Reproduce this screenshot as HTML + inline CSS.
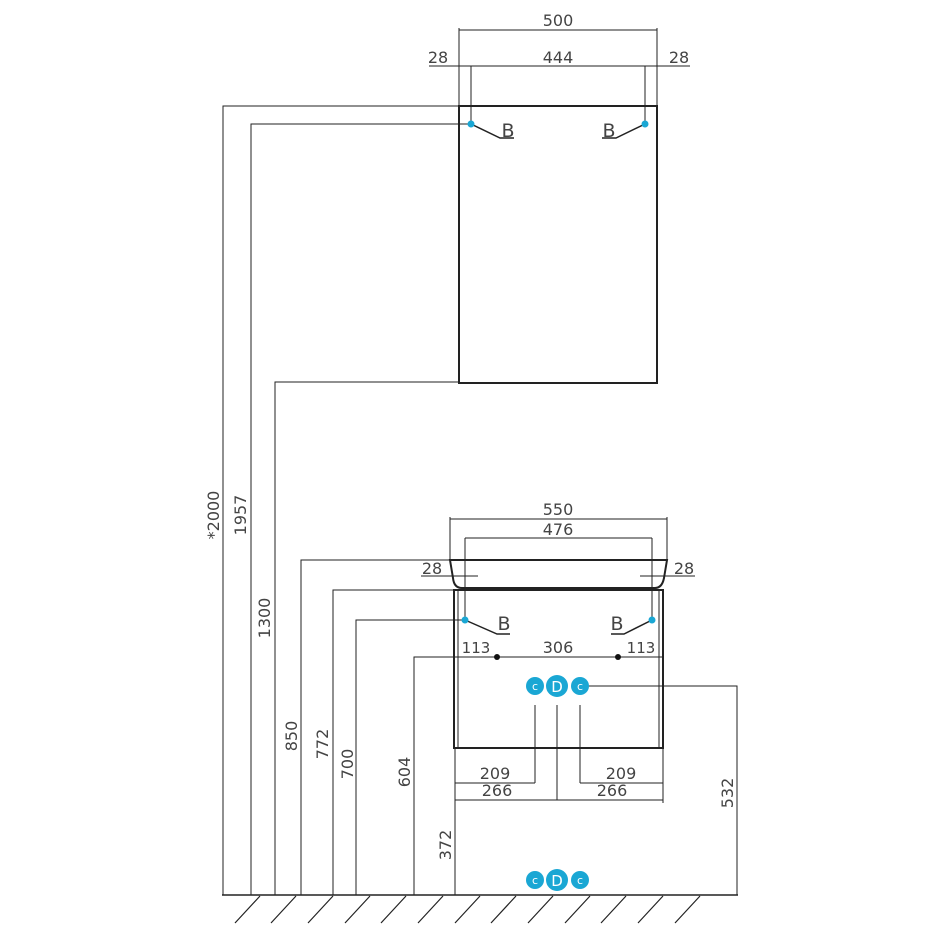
<!DOCTYPE html>
<html><head><meta charset="utf-8"><style>
html,body{margin:0;padding:0;background:#fff;}
svg{display:block}
text{font-family:"DejaVu Sans","Liberation Sans",sans-serif;font-size:16px;fill:#444}
</style></head><body>
<svg width="950" height="950" viewBox="0 0 950 950" xmlns="http://www.w3.org/2000/svg">
<g stroke="#222" stroke-width="1" fill="none">
<polyline points="459,106 223,106 223,895"/>
<polyline points="471,124 251,124 251,895"/>
<polyline points="459,382 275,382 275,895"/>
<polyline points="450,560 301,560 301,895"/>
<polyline points="454,590 333,590 333,895"/>
<polyline points="465,620 356,620 356,895"/>
<polyline points="497,657 414,657 414,895"/>
<line x1="455" y1="748" x2="455" y2="895"/>
<polyline points="579,686 737,686 737,895"/>
<line x1="222" y1="895" x2="738" y2="895" stroke-width="1.5"/>
<line x1="459" y1="28" x2="459" y2="106"/>
<line x1="657" y1="28" x2="657" y2="106"/>
<line x1="459" y1="30" x2="657" y2="30"/>
<line x1="429" y1="66" x2="690" y2="66"/>
<line x1="471" y1="66" x2="471" y2="124"/>
<line x1="645" y1="66" x2="645" y2="124"/>
<rect x="459" y="106" width="198" height="277" stroke-width="2"/>
<polyline points="471,124 500,138 514,138" stroke-width="1.5"/>
<polyline points="645,124 616,138 602,138" stroke-width="1.5"/>
<line x1="450" y1="517" x2="450" y2="560"/>
<line x1="667" y1="517" x2="667" y2="560"/>
<line x1="450" y1="519" x2="667" y2="519"/>
<line x1="465" y1="538" x2="652" y2="538"/>
<line x1="465" y1="538" x2="465" y2="620"/>
<line x1="652" y1="538" x2="652" y2="620"/>
<line x1="421" y1="576" x2="478" y2="576"/>
<line x1="640" y1="576" x2="695" y2="576"/>
<path d="M450,560 L667,560 L664,578 Q662,588 655,588 L462,588 Q454,588 453,578 Z" stroke-width="2"/>
<rect x="454" y="590" width="209" height="158" stroke-width="2"/>
<line x1="458" y1="590" x2="458" y2="748"/>
<line x1="659" y1="590" x2="659" y2="748"/>
<polyline points="465,620 497,634 510,634" stroke-width="1.5"/>
<polyline points="652,620 624,634 611,634" stroke-width="1.5"/>
<line x1="454" y1="657" x2="663" y2="657"/>
<line x1="535" y1="705" x2="535" y2="783"/>
<line x1="557" y1="705" x2="557" y2="800"/>
<line x1="580" y1="705" x2="580" y2="783"/>
<line x1="455" y1="783" x2="535" y2="783"/>
<line x1="580" y1="783" x2="663" y2="783"/>
<line x1="455" y1="800" x2="663" y2="800"/>
<line x1="663" y1="748" x2="663" y2="803"/>
<g stroke-width="1.2">
<line x1="260" y1="896" x2="235" y2="923"/><line x1="296" y1="896" x2="271" y2="923"/>
<line x1="333" y1="896" x2="308" y2="923"/><line x1="370" y1="896" x2="345" y2="923"/>
<line x1="406" y1="896" x2="381" y2="923"/><line x1="443" y1="896" x2="418" y2="923"/>
<line x1="480" y1="896" x2="455" y2="923"/><line x1="516" y1="896" x2="491" y2="923"/>
<line x1="553" y1="896" x2="528" y2="923"/><line x1="590" y1="896" x2="565" y2="923"/>
<line x1="626" y1="896" x2="601" y2="923"/><line x1="663" y1="896" x2="638" y2="923"/>
<line x1="700" y1="896" x2="675" y2="923"/>
</g>
</g>
<g fill="#1aa7d4">
<circle cx="471" cy="124" r="3.5"/><circle cx="645" cy="124" r="3.5"/>
<circle cx="465" cy="620" r="3.5"/><circle cx="652" cy="620" r="3.5"/>
<circle cx="535" cy="686" r="9"/><circle cx="557" cy="686" r="11"/><circle cx="580" cy="686" r="9"/>
<circle cx="535" cy="880" r="9"/><circle cx="557" cy="880" r="11"/><circle cx="580" cy="880" r="9"/>
</g>
<circle cx="497" cy="657" r="3" fill="#111"/><circle cx="618" cy="657" r="3" fill="#111"/>
<g text-anchor="middle">
<text x="535" y="690" style="font-size:11px;fill:#fff">c</text><text x="557" y="692" style="font-size:15px;fill:#fff">D</text><text x="580" y="690" style="font-size:11px;fill:#fff">c</text>
<text x="535" y="884" style="font-size:11px;fill:#fff">c</text><text x="557" y="886" style="font-size:15px;fill:#fff">D</text><text x="580" y="884" style="font-size:11px;fill:#fff">c</text>
</g>
<g text-anchor="middle">
<text x="558" y="26">500</text>
<text x="438" y="63">28</text><text x="558" y="63">444</text><text x="679" y="63">28</text>
<text x="508" y="137" style="font-size:19px">B</text><text x="609" y="137" style="font-size:19px">B</text>
<text x="558" y="515">550</text><text x="558" y="535">476</text>
<text x="432" y="574">28</text><text x="684" y="574">28</text>
<text x="504" y="630" style="font-size:19px">B</text><text x="617" y="630" style="font-size:19px">B</text>
<text x="476" y="653" style="font-size:15px">113</text><text x="558" y="653">306</text><text x="641" y="653" style="font-size:15px">113</text>
<text x="495" y="779">209</text><text x="621" y="779">209</text>
<text x="497" y="796">266</text><text x="612" y="796">266</text>
<text transform="translate(219,515) rotate(-90)">*2000</text>
<text transform="translate(246,515) rotate(-90)">1957</text>
<text transform="translate(270,618) rotate(-90)">1300</text>
<text transform="translate(297,736) rotate(-90)">850</text>
<text transform="translate(328,744) rotate(-90)">772</text>
<text transform="translate(353,764) rotate(-90)">700</text>
<text transform="translate(410,772) rotate(-90)">604</text>
<text transform="translate(451,845) rotate(-90)">372</text>
<text transform="translate(733,793) rotate(-90)">532</text>
</g>
</svg>
</body></html>
